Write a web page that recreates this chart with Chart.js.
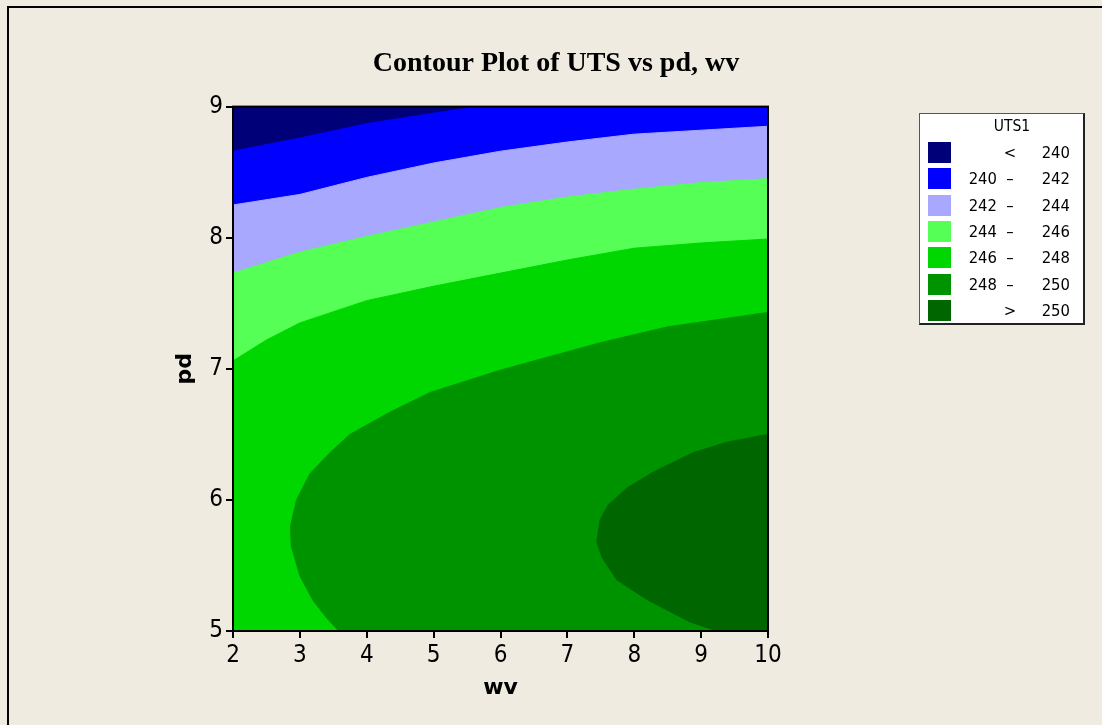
<!DOCTYPE html>
<html>
<head>
<meta charset="utf-8">
<script src="https://cdn.jsdelivr.net/npm/chart.js@4.4.1/dist/chart.umd.min.js"></script>
<style>
  html, body { margin: 0; padding: 0; background: #EFEBE1; }
  #wrap { position: relative; width: 1102px; height: 725px; overflow: hidden; background: #EFEBE1; }
  #frame { position: absolute; left: 7px; top: 6px; width: 1200px; height: 800px; border-top: 2px solid #000; border-left: 2px solid #000; }
  canvas { position: absolute; left: 0; top: 0; }
  #legend { position: absolute; left: 919px; top: 113px; width: 163px; height: 209px; background: #fff;
            border: 1px solid #555; border-right: 2px solid #222; border-bottom: 2px solid #222;
            font-family: 'DejaVu Sans Condensed', 'DejaVu Sans', sans-serif; font-size: 16.5px; color: #000; }
  #legend .ttl { position: absolute; left: 0; width: 184px; top: 3px; text-align: center; line-height: 18px; font-size: 15.5px; }
  #legend .sw { position: absolute; left: 8px; width: 23px; height: 21px; }
  #legend .t { position: absolute; line-height: 21px; height: 21px; }
  #legend .lo { left: 30px; width: 47px; text-align: right; }
  #legend .op { left: 82px; width: 16px; text-align: center; }
  #legend .hi { left: 100px; width: 50px; text-align: right; }
</style>
</head>
<body>
<div id="wrap">
  <div id="frame"></div>
  <canvas id="c" width="1102" height="725"></canvas>
  <div id="legend"></div>
</div>
<script>
// ---- data ----
const wvRange = [2, 10];
const pdRange = [5, 9];
const wvTicks = [2, 3, 4, 5, 6, 7, 8, 9, 10];
const pdTicks = [5, 6, 7, 8, 9];

const legendTitle = 'UTS1';
const legendLow  = ['',  '240', '242', '244', '246', '248', ''];
const legendOp   = ['<', '–',   '–',   '–',   '–',   '–',   '>'];
const legendHigh = ['240', '242', '244', '246', '248', '250', '250'];
const bandColors = ['#000078', '#0000FF', '#A8A8FF', '#55FF55', '#00D700', '#009300', '#006600'];

// contour lines [wv, pd]
const c240 = [[2, 8.66], [3, 8.76], [4, 8.87], [5, 8.95], [5.65, 9]];
const c242 = [[2, 8.25], [3, 8.33], [4, 8.46], [5, 8.57], [6, 8.66], [7, 8.73], [8, 8.79], [9, 8.82], [10, 8.85]];
const c244 = [[2, 7.73], [3, 7.89], [4, 8.01], [5, 8.12], [6, 8.23], [7, 8.31], [8, 8.37], [9, 8.42], [10, 8.45]];
const c246 = [[2, 7.06], [2.5, 7.22], [3, 7.35], [4, 7.52], [5, 7.63], [6, 7.73], [7, 7.83], [8, 7.92], [9, 7.96], [10, 7.99]];
const c248 = [[3.58, 5], [3.4, 5.1], [3.2, 5.23], [3.0, 5.42], [2.87, 5.65], [2.86, 5.8], [2.95, 6.0], [3.15, 6.2], [3.45, 6.36], [3.75, 6.5], [4.35, 6.67], [4.95, 6.82], [6, 6.99], [7, 7.13], [7.5, 7.2], [8.5, 7.32], [10, 7.43]];
const c250 = [[9.24, 5], [8.83, 5.07], [8.19, 5.24], [7.74, 5.39], [7.52, 5.56], [7.44, 5.68], [7.49, 5.85], [7.61, 5.96], [7.89, 6.09], [8.28, 6.21], [8.88, 6.36], [9.39, 6.44], [10, 6.5]];

// ---- build filled regions (superlevel sets, layered) ----
const [x0, x1] = wvRange, [y0, y1] = pdRange;
const pts = arr => arr.map(p => ({ x: p[0], y: p[1] }));
const regions = [
  pts([[x0, y0], [x0, y1], [x1, y1], [x1, y0]]),
  pts([[x0, y0], ...c240, [x1, y1], [x1, y0]]),
  pts([[x0, y0], ...c242, [x1, y0]]),
  pts([[x0, y0], ...c244, [x1, y0]]),
  pts([[x0, y0], ...c246, [x1, y0]]),
  pts([...c248, [x1, y0]]),
  pts([...c250, [x1, y0]])
];

const datasets = regions.map((data, i) => ({
  label: (legendLow[i] + ' ' + legendOp[i] + ' ' + legendHigh[i]).trim(),
  data,
  showLine: true,
  fill: 'shape',
  backgroundColor: bandColors[i],
  borderColor: bandColors[i],
  borderWidth: 1,
  pointRadius: 0,
  pointHoverRadius: 0,
  tension: 0,
  order: regions.length - i
}));

const tickFont = { family: "'DejaVu Sans Condensed', 'DejaVu Sans'", size: 24 };
const titleFont = { family: 'DejaVu Sans', size: 22, weight: 'bold' };

const framePlugin = {
  id: 'frame',
  afterDatasetsDraw(chart) {
    const { ctx, chartArea: a } = chart;
    ctx.save();
    ctx.strokeStyle = '#000';
    ctx.lineWidth = 2;
    ctx.strokeRect(a.left, a.top, a.right - a.left, a.bottom - a.top);
    ctx.restore();
  }
};

new Chart(document.getElementById('c'), {
  type: 'scatter',
  data: { datasets },
  options: {
    responsive: false,
    devicePixelRatio: 1,
    animation: false,
    events: [],
    layout: { padding: { left: 10, right: 0, top: 0, bottom: 0 } },
    plugins: {
      legend: { display: false },
      tooltip: { enabled: false },
      title: {
        display: true,
        text: 'Contour Plot of UTS vs pd, wv',
        color: '#000',
        font: { family: 'Liberation Serif', size: 28, weight: 'bold' },
        padding: { top: 47, bottom: 26 }
      }
    },
    scales: {
      x: {
        type: 'linear', position: 'bottom', min: x0, max: x1,
        afterBuildTicks: s => { s.ticks = wvTicks.map(v => ({ value: v })); },
        afterFit: s => { s.height = 94; },
        ticks: { color: '#000', font: tickFont, padding: 3, maxRotation: 0, autoSkip: false },
        grid: { display: true, drawOnChartArea: false, drawTicks: true, tickLength: 7, color: '#000', lineWidth: 2 },
        border: { display: true, color: '#000', width: 2 },
        title: { display: true, text: 'wv', color: '#000', font: titleFont, padding: { top: 0, bottom: 24 } }
      },
      y: {
        type: 'linear', position: 'left', min: y0, max: y1,
        afterBuildTicks: s => { s.ticks = pdTicks.map(v => ({ value: v })); },
        afterFit: s => { s.width = 223; },
        ticks: { color: '#000', font: tickFont, padding: 3 },
        grid: { display: true, drawOnChartArea: false, drawTicks: true, tickLength: 7, color: '#000', lineWidth: 2 },
        border: { display: true, color: '#000', width: 2 },
        title: { display: true, text: 'pd', color: '#000', font: titleFont, padding: { top: 162, bottom: 0 } }
      },
      yR: {
        type: 'linear', position: 'right', min: y0, max: y1,
        afterFit: s => { s.width = 334; },
        ticks: { display: false },
        grid: { display: false },
        border: { display: false }
      }
    }
  },
  plugins: [framePlugin]
});

// ---- legend (HTML text) ----
const leg = document.getElementById('legend');
const ttl = document.createElement('div');
ttl.className = 'ttl';
ttl.textContent = legendTitle;
leg.appendChild(ttl);
legendHigh.forEach((hi, i) => {
  const top = 28 + i * 26.3;
  const sw = document.createElement('div');
  sw.className = 'sw'; sw.style.top = top + 'px'; sw.style.background = bandColors[i];
  leg.appendChild(sw);
  [['lo', legendLow[i]], ['op', legendOp[i]], ['hi', hi]].forEach(([cls, txt]) => {
    const d = document.createElement('div');
    d.className = 't ' + cls; d.style.top = top + 'px'; d.textContent = txt;
    leg.appendChild(d);
  });
});
</script>
</body>
</html>
